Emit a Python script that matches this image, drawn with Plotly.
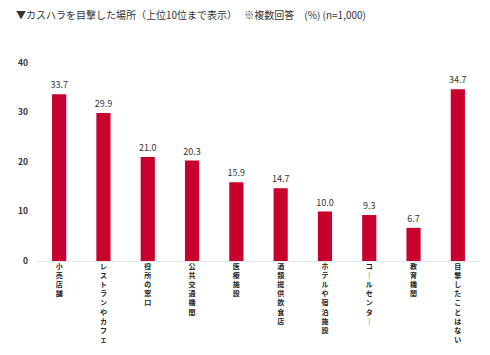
import plotly.graph_objects as go

categories = ["小売店舗", "レストランやカフェ", "役所の窓口", "公共交通機関", "医療施設",
              "酒類提供飲食店", "ホテルや宿泊施設", "コールセンター", "教育機関", "目撃したことはない"]
values = [33.7, 29.9, 21.0, 20.3, 15.9, 14.7, 10.0, 9.3, 6.7, 34.7]
y_ticks = [0, 10, 20, 30, 40]
title_text = "▼カスハラを目撃した場所（上位10位まで表示）　 ※複数回答　(%) (n=1,000)"

def vertical(s):
    return "<br>".join(ch if ch != "ー" else "｜" for ch in s)

tick_text = [vertical(c) for c in categories]

fig = go.Figure(go.Bar(
    x=list(range(len(categories))),
    y=values,
    marker=dict(color="#C8002D", line=dict(width=0)),
    text=[f"{v:.1f}" for v in values],
    textposition="outside",
    constraintext="none",
    textfont=dict(size=9, color="#333333", family="Noto Sans CJK JP"),
    cliponaxis=False,
    width=0.32,
    hoverinfo="skip",
))

fig.update_layout(
    width=490, height=355,
    margin=dict(l=37, r=10, t=63, b=94, autoexpand=False),
    paper_bgcolor="white", plot_bgcolor="white",
    showlegend=False,
    hovermode=False,
    font=dict(family="Noto Sans CJK JP", color="#333333"),
    annotations=[dict(
        text=title_text, xref="paper", yref="paper", x=-0.051, y=1.0,
        xanchor="left", yanchor="middle", yshift=49, showarrow=False,
        font=dict(size=10, color="#333333", family="Noto Sans CJK JP"),
    )],
)
fig.update_xaxes(
    tickvals=list(range(len(categories))), ticktext=tick_text,
    range=[-0.5, len(categories) - 0.5],
    tickfont=dict(size=7, color="#222222", family="Noto Sans CJK JP", weight="bold"),
    showgrid=False, showline=False, zeroline=False, ticks="", tickangle=0,
    automargin=False,
)
fig.update_yaxes(
    range=[0, 40], tickvals=y_ticks, ticktext=[str(t) for t in y_ticks],
    tickfont=dict(size=8.5, color="#333333", family="Noto Sans CJK JP", weight="bold"),
    showgrid=False, zeroline=True, zerolinecolor="#e6e6e6", zerolinewidth=1,
    showline=False, ticks="", ticklabelstandoff=8, automargin=False,
)

fig.write_html("out.html", config={"displayModeBar": False, "staticPlot": True},
               post_script="document.body.style.margin='0';document.body.style.overflow='hidden';")
